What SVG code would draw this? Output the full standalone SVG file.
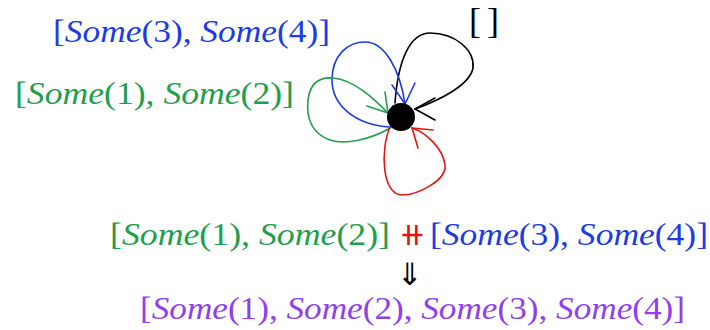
<svg xmlns="http://www.w3.org/2000/svg" width="710" height="330" viewBox="0 0 710 330">
<style>
.t{font-family:"Liberation Serif","DejaVu Serif",serif;font-size:32px}
.i{font-style:italic}
.g{fill:#1f9e4c}.b{fill:#1c3be6}.p{fill:#8f3ff0}.k{fill:#000}.r{fill:#e81414}
.loop{fill:none;stroke-width:1.6;stroke-linecap:round;stroke-linejoin:round}
</style>
<rect width="710" height="330" fill="#fff"/>
<g id="connectors">
 <g id="loop-black" class="loop" stroke="#000">
  <path d="M395,103 C398,60 410,33 430,33 C455,33 475,50 473,68 C470,85 440,100 415,109"/>
  <path d="M435,98 L415,109 L435,120"/>
 </g>
 <g id="loop-blue" class="loop" stroke="#1c3be6">
  <path d="M390,127 C355,125 332,105 332,80 C332,55 348,42 365,42 C385,42 400,70 405,104"/>
  <path d="M392,85 L405,104 L415,83"/>
 </g>
 <g id="loop-green" class="loop" stroke="#1f9e4c">
  <path d="M392,127 C370,140 345,145 330,140 C312,134 306,118 308,100 C310,83 320,77 333,78 C355,80 375,100 388,113"/>
  <path d="M385,92 L388,113 L367,106"/>
 </g>
 <g id="loop-red" class="loop" stroke="#e81414">
  <path d="M390,127 C380,150 382,195 402,195 C418,195 447,180 445,165 C443,148 425,132 412,128"/>
  <path d="M433,130 L412,128 L418,148"/>
 </g>
</g>
<g id="node">
 <circle cx="401" cy="117" r="14" fill="#000"/>
</g>
<g id="label-blue">
 <text class="t b" x="53" y="42" textLength="277" lengthAdjust="spacingAndGlyphs">[<tspan class="i">Some</tspan>(3), <tspan class="i">Some</tspan>(4)]</text>
</g>
<g id="label-green">
 <text class="t g" x="15" y="104" textLength="279" lengthAdjust="spacingAndGlyphs">[<tspan class="i">Some</tspan>(1), <tspan class="i">Some</tspan>(2)]</text>
</g>
<g id="label-black">
 <text class="t k" y="33" style="font-size:36px"><tspan x="469">[</tspan><tspan x="487">]</tspan></text>
</g>
<g id="expr">
 <text class="t g" x="110" y="245" textLength="280" lengthAdjust="spacingAndGlyphs">[<tspan class="i">Some</tspan>(1), <tspan class="i">Some</tspan>(2)]</text>
 <text class="t r" x="399" y="245">⧺</text>
 <text class="t b" x="430" y="245" textLength="278" lengthAdjust="spacingAndGlyphs">[<tspan class="i">Some</tspan>(3), <tspan class="i">Some</tspan>(4)]</text>
 <text class="k" x="410" y="285" text-anchor="middle" style="font-family:'DejaVu Sans',sans-serif;font-size:31px">⇓</text>
 <text class="t p" x="140" y="319" textLength="545" lengthAdjust="spacingAndGlyphs">[<tspan class="i">Some</tspan>(1), <tspan class="i">Some</tspan>(2), <tspan class="i">Some</tspan>(3), <tspan class="i">Some</tspan>(4)]</text>
</g>
</svg>
